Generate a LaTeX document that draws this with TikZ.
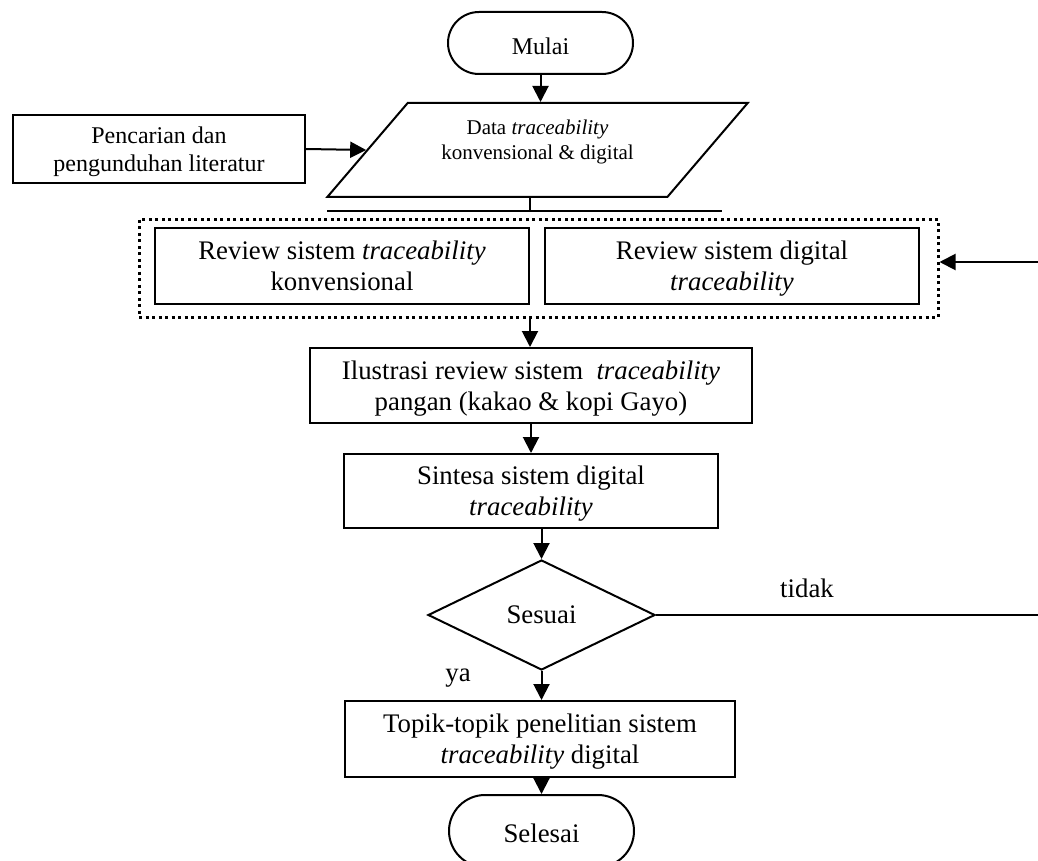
\documentclass[tikz,border=0pt]{standalone}
\usepackage{fontspec}
\setmainfont{Liberation Serif}
\usetikzlibrary{shapes.geometric,shapes.misc,arrows.meta}

\begin{document}
\begin{tikzpicture}[x=1pt, y=-1pt, line width=2pt, >={Triangle[length=16pt,width=16pt]},
  every node/.style={font=\fontsize{26.8}{31}\selectfont, align=center},
  small/.style={font=\fontsize{24}{28}\selectfont},
  lowtext/.style={text depth=0pt, execute at begin node={\rule{0pt}{#1}}},
  box/.style={draw, rectangle, inner sep=0pt, lowtext=29pt},
  term/.style={draw, rounded rectangle, minimum width=185pt, minimum height=62pt, inner sep=0pt, lowtext=23pt},
  io/.style={draw, trapezium, trapezium left angle=45, trapezium right angle=135, trapezium stretches,
    minimum width=421pt, minimum height=94pt, inner sep=0pt, font=\fontsize{21}{25}\selectfont,
    execute at end node={\rule[-20pt]{0pt}{20pt}}},
  decision/.style={draw, diamond, minimum width=227pt, minimum height=110pt, inner sep=0pt, text depth=0pt},
  group/.style={draw, line width=3pt, dash pattern=on 3pt off 3.5pt, minimum width=799pt, minimum height=98pt}]
  \useasboundingbox (0,0) rectangle (1038,861);
  \node[term, small] (mulai) at (540.5,43) {Mulai};
  \node[io] (data) at (537.5,150) {Data \textit{traceability}\\konvensional \& digital};
  \node[box, small, lowtext=34pt, minimum width=292pt, minimum height=68pt] (cari) at (159,149) {Pencarian dan\\pengunduhan literatur};
  \node[group] (review) at (538.5,268) {};
  \node[box, minimum width=374pt, minimum height=76pt] (konv) at (342,266) {Review sistem \textit{traceability}\\konvensional};
  \node[box, minimum width=374pt, minimum height=76pt] (digi) at (732,266) {Review sistem digital\\\textit{traceability}};
  \node[box, minimum width=442pt, minimum height=75pt] (ilus) at (531,385.5) {Ilustrasi review sistem\ \ \textit{traceability}\\pangan (kakao \& kopi Gayo)};
  \node[box, minimum width=374pt, minimum height=74pt] (sintesa) at (531,491) {Sintesa sistem digital\\\textit{traceability}};
  \node[decision] (sesuai) at (541.5,615) {Sesuai};
  \node[box, minimum width=390pt, minimum height=76pt] (topik) at (540,739) {Topik-topik penelitian sistem\\\textit{traceability} digital};
  \node[term, minimum height=72pt] (selesai) at (541.5,831) {Selesai};
  \node (tidak) at (807,588) {tidak};
  \node (ya) at (458,678) {ya};
  \coordinate (balik) at (1038,615);
  \coordinate (masuk) at (1038,262);
  \coordinate (garisA) at (327,211);
  \coordinate (garisB) at (722,211);

  \draw[->] (mulai.south) -- (mulai.south |- data.north);
  \draw[->] (cari.east) -- (data.west);
  \draw (data.south -| konv.east) -- ++(0,14);
  \draw (garisA) -- (garisB);
  \draw[->] (masuk) -- (masuk -| review.east);
  \draw[->] (review.south -| konv.east) -- (ilus.north -| konv.east);
  \draw[->] (ilus) -- (sintesa);
  \draw[->] (sintesa.south -| sesuai.north) -- (sesuai.north);
  \draw (sesuai.east) -- (sesuai.east -| balik);
  \draw[->] (sesuai.south) -- (sesuai.south |- topik.north);
  \draw[->] (topik.south -| selesai.north) -- (selesai.north);
\end{tikzpicture}
\end{document}
